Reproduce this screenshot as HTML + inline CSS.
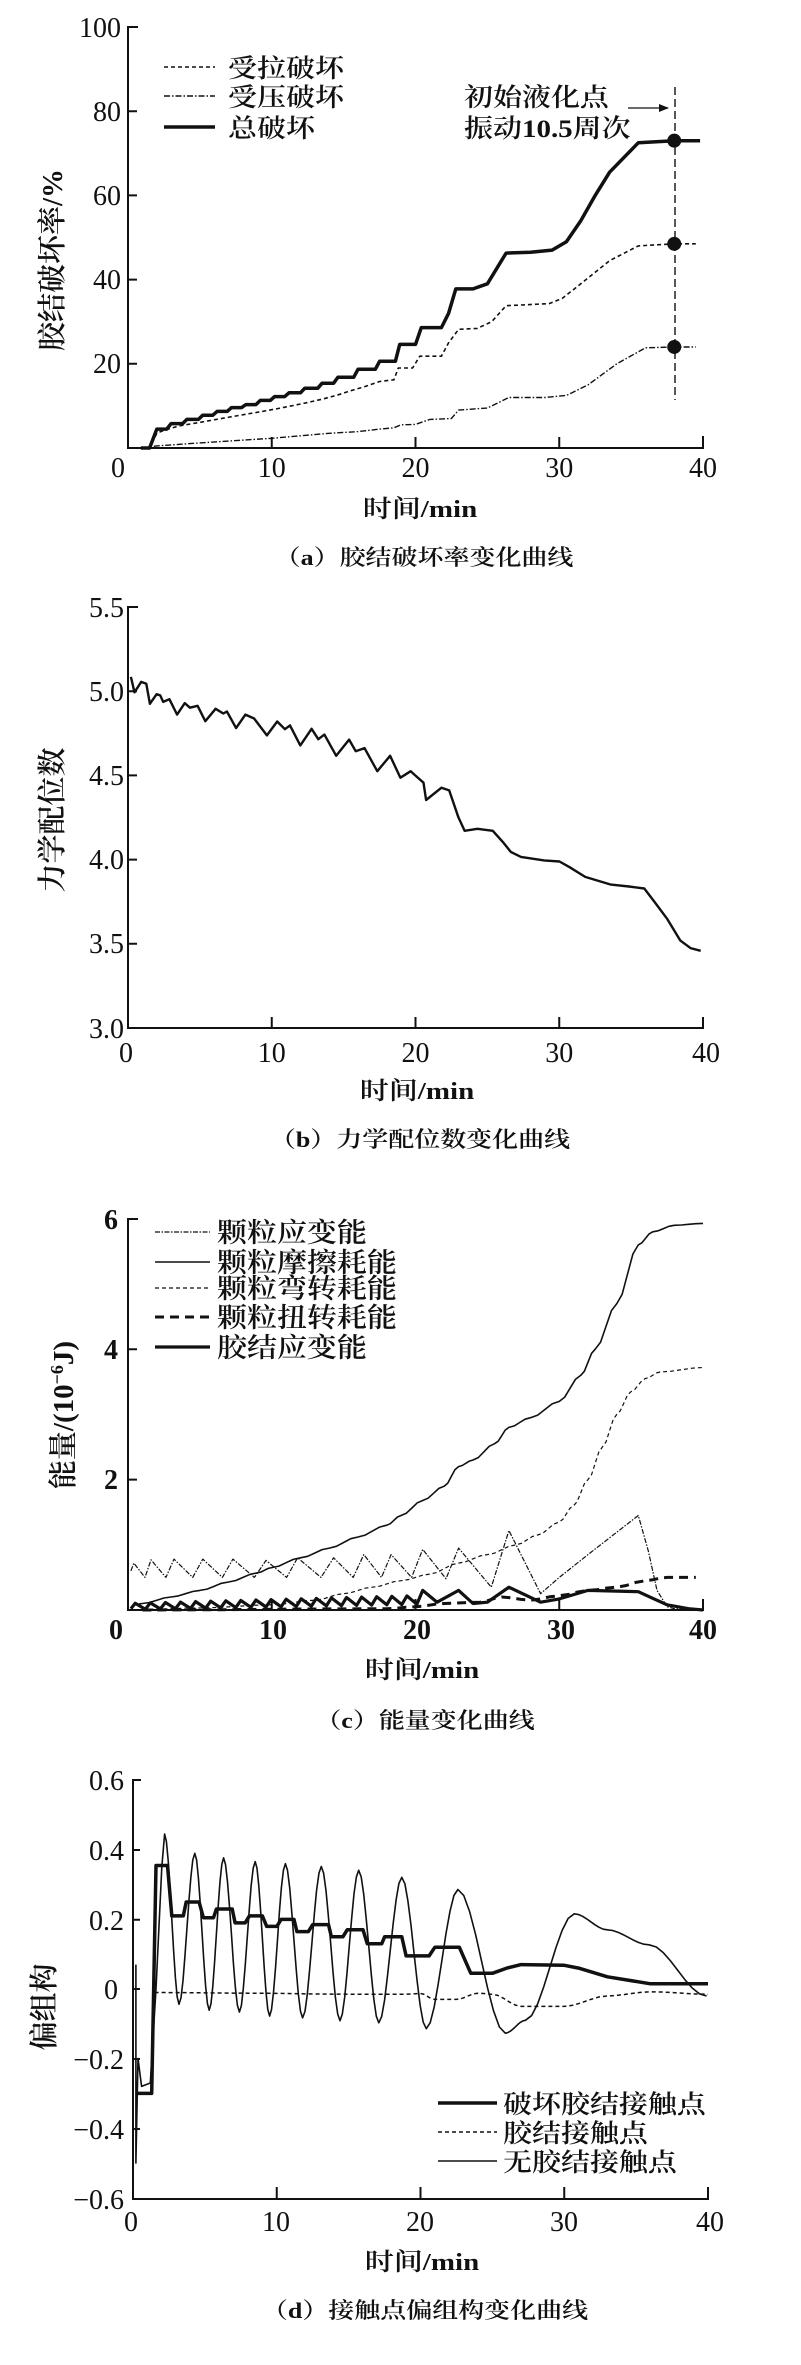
<!DOCTYPE html>
<html><head><meta charset="utf-8"><style>
html,body{margin:0;padding:0;background:#fff;}
svg{display:block;}
text{font-family:"Liberation Serif","Noto Serif CJK SC",serif;fill:#111;}
.cj{font-family:"Liberation Serif","Noto Serif CJK SC",serif;font-weight:600;}
.tk{font-size:28px;text-anchor:middle;}
.ty{font-size:28px;text-anchor:end;}
</style></head><body>
<svg id="s" width="801" height="2365" viewBox="0 0 801 2365" xmlns="http://www.w3.org/2000/svg">
<g stroke="#111" stroke-width="2" fill="none">
<!-- panel a axes -->
<path d="M138,27H128V448H703V436M271.75,448V437M415.5,448V437M559.25,448V437M128,363.8H137M128,279.6H137M128,195.4H137M128,111.2H137"/>
<!-- panel b axes -->
<path d="M138,607H128V1028H703V1017M271.75,1028V1017M415.5,1028V1017M559.25,1028V1017M128,943.8H137M128,859.6H137M128,775.4H137M128,691.2H137"/>
<!-- panel c axes -->
<path d="M138,1219H128V1610H703V1599M271.75,1610V1599M415.5,1610V1599M559.25,1610V1599M128,1479.6H137M128,1349.2H137"/>
<!-- panel d axes -->
<path d="M141,1780H133V2199H708V2187M276.75,2199V2187M420.5,2199V2187M564.25,2199V2187M133,1919.7H140M133,1989H140M133,2059H140M133,2129H140M133,1850H140"/>
</g>
<g id="curves"></g>
<!-- tick labels a -->
<g class="tk"><text x="118" y="477">0</text><text x="271.75" y="477">10</text><text x="415.5" y="477">20</text><text x="559.25" y="477">30</text><text x="703" y="477">40</text></g>
<g class="ty"><text x="121" y="37">100</text><text x="121" y="121">80</text><text x="121" y="205">60</text><text x="121" y="289">40</text><text x="121" y="373">20</text></g>
<!-- tick labels b -->
<g class="tk"><text x="126" y="1062">0</text><text x="271.75" y="1062">10</text><text x="415.5" y="1062">20</text><text x="559.25" y="1062">30</text><text x="706" y="1062">40</text></g>
<g class="ty"><text x="124" y="617">5.5</text><text x="124" y="701">5.0</text><text x="124" y="785">4.5</text><text x="124" y="869">4.0</text><text x="124" y="953">3.5</text><text x="124" y="1038">3.0</text></g>
<!-- tick labels c -->
<g class="tk" font-weight="bold"><text x="116" y="1639">0</text><text x="273" y="1639">10</text><text x="417" y="1639">20</text><text x="561" y="1639">30</text><text x="703" y="1639">40</text></g>
<g class="ty" font-weight="bold"><text x="118" y="1229">6</text><text x="118" y="1359">4</text><text x="118" y="1489">2</text></g>
<!-- tick labels d -->
<g class="tk"><text x="131" y="2231">0</text><text x="276" y="2231">10</text><text x="420" y="2231">20</text><text x="564" y="2231">30</text><text x="710" y="2231">40</text></g>
<g class="ty"><text x="124" y="1790">0.6</text><text x="124" y="1860">0.4</text><text x="124" y="1930">0.2</text><text x="118" y="1999">0</text><text x="124" y="2069">−0.2</text><text x="124" y="2139">−0.4</text><text x="124" y="2209">−0.6</text></g>

<!-- axis labels & captions -->
<g class="cj" font-size="29" text-anchor="middle">
<text transform="translate(420,517) scale(1,0.85)">时间/min</text>
<text transform="translate(417,1099) scale(1,0.85)">时间/min</text>
<text transform="translate(422,1678) scale(1,0.85)">时间/min</text>
<text transform="translate(422,2270) scale(1,0.85)">时间/min</text>
</g>
<g class="cj" font-size="26" text-anchor="middle" font-weight="500">
<text transform="translate(424,565) scale(1,0.85)">（a）胶结破坏率变化曲线</text>
<text transform="translate(420,1147) scale(1,0.85)">（b）力学配位数变化曲线</text>
<text transform="translate(425,1728) scale(1,0.85)">（c）能量变化曲线</text>
<text transform="translate(425,2318) scale(1,0.85)">（d）接触点偏组构变化曲线</text>
</g>
<g class="cj" font-size="29" text-anchor="middle">
<text transform="translate(62,260) rotate(-90)">胶结破坏率/%</text>
<text transform="translate(62,820) rotate(-90)">力学配位数</text>
<text transform="translate(73,1415) rotate(-90)">能量/(10<tspan font-size="18" dy="-10">−6</tspan><tspan dy="10">J)</tspan></text>
<text transform="translate(54,2007) rotate(-90)">偏组构</text>
</g>
<!-- legend a -->
<g stroke="#111" fill="none">
<path d="M164,67H215" stroke-width="1.6" stroke-dasharray="4,3"/>
<path d="M164,96H215" stroke-width="1.4" stroke-dasharray="6,2,1.5,2"/>
<path d="M164,127H215" stroke-width="3.5"/>
<path d="M628,108H668" stroke-width="1.3"/>
<path d="M675,87V400" stroke-width="1.4" stroke-dasharray="8,4"/>
</g>
<path d="M669,108l-10,-4v8z" fill="#111"/>
<g class="cj" font-size="29">
<text transform="translate(228,77) scale(1,0.88)">受拉破坏</text>
<text transform="translate(228,106) scale(1,0.88)">受压破坏</text>
<text transform="translate(228,137) scale(1,0.88)">总破坏</text>
<text transform="translate(464,106) scale(1,0.88)">初始液化点</text>
<text transform="translate(464,137) scale(1,0.88)">振动10.5周次</text>
</g>
<!-- legend c -->
<g stroke="#111" fill="none">
<path d="M155,1232H210" stroke-width="1.2" stroke-dasharray="5,1.5,1.5,1.5"/>
<path d="M155,1262H210" stroke-width="1.6"/>
<path d="M155,1288H210" stroke-width="1.2" stroke-dasharray="4,3"/>
<path d="M155,1317H210" stroke-width="3" stroke-dasharray="9,6"/>
<path d="M155,1347H210" stroke-width="3.2"/>
</g>
<g class="cj" font-size="30">
<text transform="translate(217,1242) scale(1,0.9)">颗粒应变能</text>
<text transform="translate(217,1272) scale(1,0.9)">颗粒摩擦耗能</text>
<text transform="translate(217,1298) scale(1,0.9)">颗粒弯转耗能</text>
<text transform="translate(217,1327) scale(1,0.9)">颗粒扭转耗能</text>
<text transform="translate(217,1357) scale(1,0.9)">胶结应变能</text>
</g>
<!-- legend d -->
<g stroke="#111" fill="none">
<path d="M438,2103H497" stroke-width="3.5"/>
<path d="M438,2132H497" stroke-width="1.6" stroke-dasharray="4,3"/>
<path d="M438,2161H497" stroke-width="1.6"/>
</g>
<g class="cj" font-size="29">
<text transform="translate(503,2113) scale(1,0.88)">破坏胶结接触点</text>
<text transform="translate(503,2142) scale(1,0.88)">胶结接触点</text>
<text transform="translate(503,2171) scale(1,0.88)">无胶结接触点</text>
</g>
</svg>
<script>
(function(){
var NS="http://www.w3.org/2000/svg",G=document.getElementById("curves");
function add(pts,fx,fy,sw,dash,smooth){
  var d="";pts.forEach(function(p,i){d+=(i?"L":"M")+fx(p[0]).toFixed(1)+","+fy(p[1]).toFixed(1);});
  var e=document.createElementNS(NS,"path");e.setAttribute("d",d);e.setAttribute("fill","none");
  e.setAttribute("stroke","#111");e.setAttribute("stroke-width",sw);e.setAttribute("stroke-linejoin","round");
  if(dash)e.setAttribute("stroke-dasharray",dash);G.appendChild(e);}
function interp(k,n){var o=[];for(var i=0;i<k.length-1;i++){var a=k[i],b=k[i+1];for(var j=0;j<n;j++){var s=j/n,ss=s*s*(3-2*s);o.push([a[0]+(b[0]-a[0])*s,a[1]+(b[1]-a[1])*ss]);}}o.push(k[k.length-1]);return o;}
// panel a
var AX=function(t){return 128+t*14.375},AY=function(p){return 448-p*4.21};
add([[0.9,0],[1.5,0],[2,4.5],[2.7,4.5],[3,5.8],[3.8,5.8],[4.1,6.8],[4.9,6.8],[5.2,7.8],[5.9,7.8],[6.2,8.7],[6.9,8.7],[7.2,9.6],[7.9,9.6],[8.2,10.3],[8.9,10.3],[9.2,11.3],[9.9,11.3],[10.2,12.2],[10.9,12.2],[11.2,13.1],[12,13.1],[12.3,14.2],[13.2,14.2],[13.5,15.4],[14.3,15.4],[14.6,16.8],[15.7,16.8],[16,18.7],[17.2,18.7],[17.5,20.6],[18.6,20.6],[18.9,24.6],[20,24.6],[20.4,28.6],[21.8,28.6],[22.3,32],[22.8,37.8],[24,37.8],[25,39],[26.3,46.3],[28,46.5],[29.5,47],[30.5,49],[31.5,54],[32.5,60],[33.5,65.5],[35.5,72.5],[38,73],[39.8,73]],AX,AY,3.5);
add([[0.9,0],[1.5,0],[2,3.5],[2.5,4.2],[3.5,5.2],[4.5,5.8],[5.5,6.4],[6.5,7],[7.5,7.6],[8.5,8.2],[9.5,8.8],[10.5,9.4],[11.5,10.1],[12.5,10.8],[13.5,11.6],[14.5,12.5],[15.5,13.6],[16.5,14.6],[17.5,15.8],[18.5,16.2],[18.8,19],[19.8,19],[20.3,21.8],[21.8,21.8],[22.3,25],[23,28.2],[24.3,28.4],[25.3,30],[26.3,33.8],[27.5,34],[29.3,34.3],[30.2,35.5],[31.5,39],[33.5,44.5],[35.5,48],[38,48.5],[39.5,48.5]],AX,AY,1.6,"4,3");
add([[1,0],[2,0.5],[5,1.2],[10,2.3],[14,3.5],[16,3.9],[17.5,4.5],[18.5,4.8],[19,5.5],[20,5.6],[21,6.8],[22.5,7],[23,9],[25,9.5],[26.5,12],[29,12],[30.5,12.5],[32,15],[34,20],[36,23.8],[38,24],[39.5,24]],AX,AY,1.4,"6,2,1.5,2");
[[73],[48.5],[24]].forEach(function(v){var c=document.createElementNS(NS,"circle");c.setAttribute("cx",AX(38));c.setAttribute("cy",AY(v[0]));c.setAttribute("r","7");c.setAttribute("fill","#111");G.appendChild(c);});
// panel b (zoom coords)
var bz=[[255,200],[262,240],[275,213],[285,218],[292,270],[305,245],[312,248],[318,265],[330,258],[345,298],[360,268],[370,280],[385,275],[400,315],[420,283],[435,295],[442,290],[460,333],[478,298],[495,308],[520,352],[540,316],[555,336],[565,326],[585,378],[607,335],[620,362],[632,350],[655,405],[680,363],[693,393],[710,385],[735,445],[760,405],[780,462],[800,445],[808,455],[825,475],[830,520],[860,488],[875,495],[893,565],[905,600],[930,595],[960,600],[980,630],[995,655],[1015,668],[1060,677],[1090,680],[1110,695],[1140,720],[1190,740],[1225,745],[1255,750],[1275,785],[1300,830],[1325,885],[1345,905],[1365,912]];
add(bz,function(x){return x/1.948},function(y){return 600+y/2.6},2.4);
// panel c
var CX=AX,CY=function(e){return 1610-e*65.2};
add(interp([[0.5,0.08],[1,0.1],[3,0.2],[5,0.3],[7,0.43],[9,0.57],[10,0.65],[12,0.8],[14,0.95],[16,1.12],[18,1.3],[19,1.45],[20.5,1.68],[22,1.9],[23,2.2],[24,2.3],[25.5,2.55],[26.5,2.8],[28,2.95],[30,3.2],[31.5,3.6],[32.5,4.0],[34,4.7],[35.5,5.6],[36.5,5.8],[38,5.9],[40,5.93]],4),CX,CY,1.6);
add(interp([[1,0.01],[5,0.03],[10,0.08],[13,0.15],[15,0.25],[17,0.35],[19,0.45],[21,0.55],[23,0.72],[25,0.85],[27,1.0],[28.5,1.15],[30,1.35],[31,1.6],[32,2.0],[33,2.5],[34,3.0],[35,3.35],[36,3.55],[37,3.65],[40,3.72]],4),CX,CY,1.2,"4,3");
var pk=[[0.4,0.72],[1.6,0.77],[3.2,0.78],[5.2,0.78],[7.3,0.78],[9.6,0.76],[11.8,0.8],[14.3,0.8],[16.4,0.85],[18.3,0.85],[20.5,0.93],[23,0.95],[26.5,1.22]];
var ps=[[0.2,0.6]];for(var i=0;i<pk.length;i++){ps.push(pk[i]);if(i<pk.length-1){var tr=pk[i+1][0]<21?0.5:(pk[i+1][0]<24?0.48:0.35);ps.push([pk[i][0]+(pk[i+1][0]-pk[i][0])*0.65,tr]);}}
ps=ps.concat([[28.7,0.25],[30,0.5],[32,0.85],[35.5,1.45],[36.2,0.9],[36.8,0.3],[37.5,0.05],[38,0.02],[40,0]]);
add(ps,CX,CY,1.2,"5,1.5,1.5,1.5");
var bs=[[0.2,0.02]];for(var t=0.5;t<19.5;t+=1.05){var h=0.1+t*0.006;bs.push([t,h]);bs.push([t+0.7,0.01+t*0.004]);}
bs=bs.concat([[20.5,0.3],[21.5,0.12],[23,0.3],[24,0.1],[25,0.12],[26.5,0.35],[28.7,0.12],[30,0.17],[32,0.3],[35.5,0.28],[36.5,0.18],[37.5,0.08],[39,0.02],[40,0]]);
add(bs,CX,CY,3.2);
add(interp([[1,0],[18,0.02],[20,0.05],[22,0.1],[24.5,0.12],[26,0.2],[28,0.15],[30,0.22],[32,0.3],[34,0.35],[36,0.45],[37.5,0.5],[39.5,0.5]],3),CX,CY,3,"9,6");
// panel d
var DX=function(t){return 133+t*14.375},DY=function(v){return 1989-v*348};
add([[0.2,0.07],[0.2,-0.5],[0.35,-0.2],[0.6,-0.28],[1.2,-0.27],[1.6,0],[2.0,0.35],[2.2,0.445]].concat(interp([[2.2,0.445],[3.2,-0.044],[4.3,0.39],[5.3,-0.061],[6.3,0.377],[7.4,-0.066],[8.5,0.366],[9.5,-0.078],[10.6,0.36],[11.8,-0.083],[13.1,0.352],[14.4,-0.091],[15.7,0.341],[17.1,-0.097],[18.7,0.321],[20.4,-0.114],[22.6,0.286],[25.9,-0.127],[27.3,-0.09],[30.7,0.216],[33,0.17],[35.9,0.127],[39.9,-0.02]],8)),DX,DY,1.6);
add([[0.3,-0.3],[1.3,-0.3],[1.6,0.355],[2.4,0.355],[2.7,0.21],[3.5,0.21],[3.7,0.25],[4.6,0.25],[4.9,0.205],[5.6,0.205],[5.8,0.23],[6.9,0.23],[7.1,0.19],[7.8,0.19],[8.1,0.21],[9,0.21],[9.3,0.18],[10,0.18],[10.3,0.2],[11.2,0.2],[11.4,0.165],[12.2,0.165],[12.5,0.185],[13.6,0.185],[13.8,0.15],[14.6,0.15],[14.9,0.17],[16,0.17],[16.3,0.13],[17.3,0.13],[17.5,0.15],[18.7,0.15],[19,0.095],[20.6,0.095],[21,0.12],[22.7,0.12],[23.5,0.045],[25,0.045],[26,0.06],[27,0.07],[30,0.068],[31,0.06],[33,0.035],[36,0.015],[40,0.015]],DX,DY,3.5);
add(interp([[1.5,-0.01],[8,-0.012],[15,-0.015],[19,-0.015],[20,-0.013],[21,-0.03],[22.5,-0.03],[24,-0.012],[25,-0.015],[27,-0.05],[30,-0.05],[33,-0.02],[36,-0.008],[40,-0.015]],5),DX,DY,1.5,"4,3");
})();
</script>
</body></html>
